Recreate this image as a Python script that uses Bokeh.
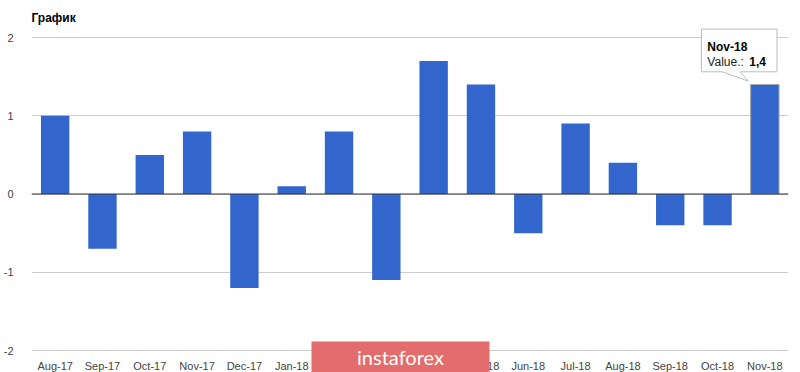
from bokeh.plotting import figure
from bokeh.models import ColumnDataSource, FixedTicker, Span, Label, BoxAnnotation
from bokeh.core.properties import value
from bokeh.embed import file_html
from bokeh.resources import INLINE

# ---- data ----
categories = ["Aug-17", "Sep-17", "Oct-17", "Nov-17", "Dec-17", "Jan-18", "Feb-18", "Mar-18",
              "Apr-18", "May-18", "Jun-18", "Jul-18", "Aug-18", "Sep-18", "Oct-18", "Nov-18"]
values = [1.0, -0.7, 0.5, 0.8, -1.2, 0.1, 0.8, -1.1, 1.7, 1.4, -0.5, 0.9, 0.4, -0.4, -0.4, 1.4]
y_ticks = [-2, -1, 0, 1, 2]
y_tick_labels = ["-2", "-1", "0", "1", "2"]
title_text = "График"
tooltip_label = "Value.: "
tooltip_value = "1,4"

FONT = "Liberation Sans"
BAR = "#3366cc"
Y_MIN = min(y_ticks)

p = figure(x_range=categories, y_range=(-2.281, 2.128), width=800, height=372,
           output_backend="svg", toolbar_location=None, title=title_text,
           min_border_left=30, min_border_right=12, min_border_top=27, min_border_bottom=0)
p.outline_line_color = None
p.background_fill_color = "white"
p.border_fill_color = "white"

p.title.text_font = FONT
p.title.text_font_size = "12px"
p.title.text_font_style = "bold"
p.title.text_color = "#000000"
p.title.standoff = 5
p.title.offset = 0

src = ColumnDataSource(dict(cat=categories, val=values))
p.vbar(x="cat", top="val", bottom=0, width=0.6, source=src,
       fill_color=BAR, line_color=None)

# highlighted last bar (tooltip target)
last = ColumnDataSource(dict(cat=[categories[-1]], val=[values[-1]]))
p.vbar(x="cat", top="val", bottom=0, width=0.6, source=last,
       fill_color=BAR, line_color="#aaaaaa", line_width=1)

p.add_layout(Span(location=0, dimension="width", line_color="#333333", line_width=1))

# y axis
p.yaxis.ticker = FixedTicker(ticks=y_ticks)
p.yaxis.major_label_overrides = {t: l for t, l in zip(y_ticks, y_tick_labels)}
ax = p.yaxis[0]
ax.axis_line_color = None
ax.major_tick_line_color = None
ax.minor_tick_line_color = None
ax.major_label_text_font = FONT
ax.major_label_text_font_size = "11px"
ax.major_label_text_color = "#444444"
ax.major_label_standoff = 12

# category labels drawn under the bottom grid line
p.xaxis.visible = False
p.text(x=categories, y=[Y_MIN] * len(categories), text=categories, y_offset=15,
       text_font=value(FONT), text_font_size="11px", text_color="#444444",
       text_align="center", text_baseline="alphabetic")

p.xgrid.grid_line_color = None
p.ygrid.ticker = FixedTicker(ticks=y_ticks)
p.ygrid.grid_line_color = "#cccccc"
p.ygrid.grid_line_width = 1

# tooltip box (callout) in categorical offsets relative to the last bar
c = categories[-1]
v = values[-1]
box_xs = [(c, -1.34), (c, 0.257), (c, 0.257), (c, -0.52), (c, -0.35), (c, -0.9), (c, -1.34)]
box_ys = [2.107, 2.107, 1.562, 1.562, v + 0.043, 1.562, 1.562]
p.patch(x=box_xs, y=box_ys, fill_color="white", line_color="#bbbbbb", line_width=1)

p.text(x=[c], y=[v], text=[c], x_offset=-57.5, y_offset=-37.5,
       text_font=value(FONT), text_font_size="12px", text_font_style="bold",
       text_color="#000000", text_baseline="alphabetic", text_align="left")
p.text(x=[c], y=[v], text=[tooltip_label], x_offset=-57.5, y_offset=-22.5,
       text_font=value(FONT), text_font_size="12px",
       text_color="#222222", text_baseline="alphabetic", text_align="left")
p.text(x=[c], y=[v], text=[tooltip_value], x_offset=-15.5, y_offset=-22.5,
       text_font=value(FONT), text_font_size="12px", text_font_style="bold",
       text_color="#000000", text_baseline="alphabetic", text_align="left")

# watermark
p.add_layout(BoxAnnotation(left=311, right=489, top=341, bottom=372,
                           left_units="canvas", right_units="canvas",
                           top_units="canvas", bottom_units="canvas",
                           fill_color="#e36c6c", fill_alpha=1.0, line_color=None,
                           level="overlay"))
p.add_layout(Label(x=400, y=356, x_units="canvas", y_units="canvas", text="instaforex",
                   text_font="Lato", text_font_size="20px", text_color="white",
                   text_align="center", text_baseline="middle", level="overlay"))

open("out.html", "w").write(file_html(p, INLINE))
